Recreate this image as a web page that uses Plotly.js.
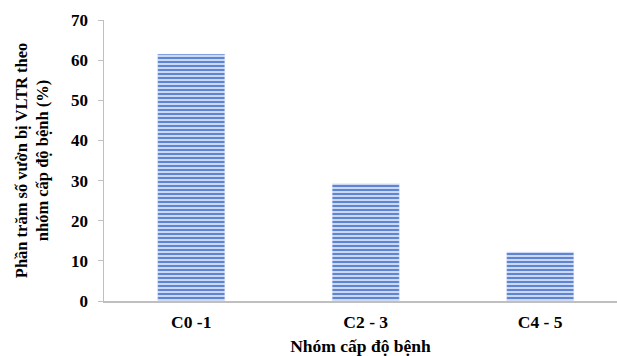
<!DOCTYPE html>
<html>
<head>
<meta charset="utf-8">
<script src="https://cdn.plot.ly/plotly-3.0.1.min.js"></script>
<style>html,body{margin:0;padding:0;background:#fff;}#chart{width:617px;height:356px;}</style>
</head>
<body>
<div id="chart"></div>
<script>
const categories = ["C0 -1", "C2 - 3", "C4 - 5"];
const values = [61.5, 29.2, 12.2];
const yTickVals = [0, 10, 20, 30, 40, 50, 60, 70];

const fontFam = '"Liberation Serif", "Times New Roman", serif';

const trace = {
  type: 'bar',
  x: categories,
  y: values,
  width: 0.385,
  marker: {
    color: '#c8d6f1',
    line: {width: 0.5, color: '#dfe7f7'},
    pattern: {shape: '-', fgcolor: '#5f84d2', bgcolor: '#cbd8f2', size: 4, solidity: 0.5, fillmode: 'replace'}
  },
  hoverinfo: 'none'
};

const layout = {
  width: 617, height: 356,
  margin: {l: 104, r: 0, t: 20, b: 55},
  paper_bgcolor: '#ffffff', plot_bgcolor: '#ffffff',
  showlegend: false,
  font: {family: fontFam, size: 17, color: '#000'},
  xaxis: {
    type: 'category',
    range: [-0.5, 2.44],
    showline: true, linecolor: '#bfbfbf', linewidth: 1.5,
    ticks: '', showgrid: false, zeroline: false,
    tickfont: {family: fontFam, size: 17.5, color: '#000', weight: 'bold'},
    ticklabelstandoff: 4,
    title: {text: '<b>Nhóm cấp độ bệnh</b>', font: {family: fontFam, size: 17.5, color: '#000'}, standoff: 11}
  },
  yaxis: {
    range: [0, 70],
    tickvals: yTickVals,
    showline: true, linecolor: '#bfbfbf', linewidth: 1.5,
    ticks: 'outside', ticklen: 5, tickcolor: '#bfbfbf',
    ticklabelstandoff: 6,
    showgrid: false, zeroline: false,
    tickfont: {family: fontFam, size: 17, color: '#000', weight: 'bold'},
    title: {text: '<b>Phần trăm số vườn bị VLTR theo<br>nhóm cấp độ bệnh (%)</b>', font: {family: fontFam, size: 16.5, color: '#000'}, standoff: 18}
  }
};

Plotly.newPlot('chart', [trace], layout, {displayModeBar: false, staticPlot: true});
</script>
</body>
</html>
